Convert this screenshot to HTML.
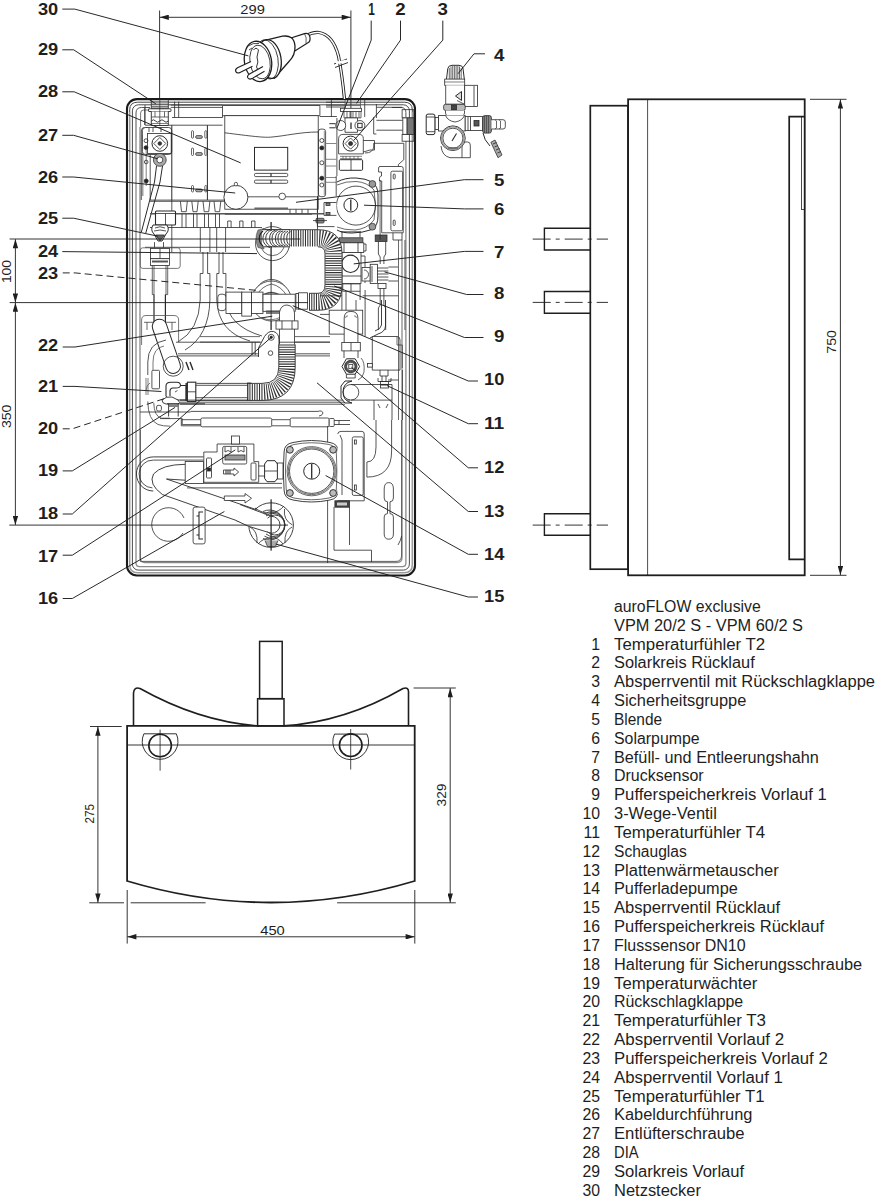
<!DOCTYPE html>
<html><head><meta charset="utf-8"><style>
html,body{margin:0;padding:0;background:#fff;}
svg{display:block;}
.lst text{font-family:"Liberation Sans",sans-serif;font-size:15.8px;fill:#1e1e1e;}
.lab text{font-family:"Liberation Sans",sans-serif;font-size:15.6px;font-weight:bold;fill:#1e1e1e;}
.dim text{font-family:"Liberation Sans",sans-serif;font-size:13.5px;fill:#1e1e1e;}
</style></head><body>
<svg width="876" height="1199" viewBox="0 0 876 1199">
<g class="lst">
<text x="614.0" y="611.9" textLength="146.8" lengthAdjust="spacingAndGlyphs">auroFLOW exclusive</text>
<text x="614.0" y="630.8" textLength="189.0" lengthAdjust="spacingAndGlyphs">VPM 20/2 S - VPM 60/2 S</text>
<text x="600" y="649.6" text-anchor="end">1</text>
<text x="614.0" y="649.6" textLength="151.2" lengthAdjust="spacingAndGlyphs">Temperaturfühler T2</text>
<text x="600" y="668.4" text-anchor="end">2</text>
<text x="614.0" y="668.4" textLength="140.7" lengthAdjust="spacingAndGlyphs">Solarkreis Rücklauf</text>
<text x="600" y="687.3" text-anchor="end">3</text>
<text x="614.0" y="687.3" textLength="261.0" lengthAdjust="spacingAndGlyphs">Absperrventil mit Rückschlagklappe</text>
<text x="600" y="706.1" text-anchor="end">4</text>
<text x="614.0" y="706.1" textLength="132.3" lengthAdjust="spacingAndGlyphs">Sicherheitsgruppe</text>
<text x="600" y="724.9" text-anchor="end">5</text>
<text x="614.0" y="724.9" textLength="48.1" lengthAdjust="spacingAndGlyphs">Blende</text>
<text x="600" y="743.8" text-anchor="end">6</text>
<text x="614.0" y="743.8" textLength="85.6" lengthAdjust="spacingAndGlyphs">Solarpumpe</text>
<text x="600" y="762.6" text-anchor="end">7</text>
<text x="614.0" y="762.6" textLength="204.9" lengthAdjust="spacingAndGlyphs">Befüll- und Entleerungshahn</text>
<text x="600" y="781.4" text-anchor="end">8</text>
<text x="614.0" y="781.4" textLength="89.7" lengthAdjust="spacingAndGlyphs">Drucksensor</text>
<text x="600" y="800.2" text-anchor="end">9</text>
<text x="614.0" y="800.2" textLength="212.7" lengthAdjust="spacingAndGlyphs">Pufferspeicherkreis Vorlauf 1</text>
<text x="600" y="819.1" text-anchor="end">10</text>
<text x="614.0" y="819.1" textLength="102.9" lengthAdjust="spacingAndGlyphs">3-Wege-Ventil</text>
<text x="600" y="837.9" text-anchor="end">11</text>
<text x="614.0" y="837.9" textLength="151.2" lengthAdjust="spacingAndGlyphs">Temperaturfühler T4</text>
<text x="600" y="856.7" text-anchor="end">12</text>
<text x="614.0" y="856.7" textLength="72.8" lengthAdjust="spacingAndGlyphs">Schauglas</text>
<text x="600" y="875.6" text-anchor="end">13</text>
<text x="614.0" y="875.6" textLength="164.7" lengthAdjust="spacingAndGlyphs">Plattenwärmetauscher</text>
<text x="600" y="894.4" text-anchor="end">14</text>
<text x="614.0" y="894.4" textLength="123.8" lengthAdjust="spacingAndGlyphs">Pufferladepumpe</text>
<text x="600" y="913.2" text-anchor="end">15</text>
<text x="614.0" y="913.2" textLength="166.0" lengthAdjust="spacingAndGlyphs">Absperrventil Rücklauf</text>
<text x="600" y="932.0" text-anchor="end">16</text>
<text x="614.0" y="932.0" textLength="210.0" lengthAdjust="spacingAndGlyphs">Pufferspeicherkreis Rücklauf</text>
<text x="600" y="950.9" text-anchor="end">17</text>
<text x="614.0" y="950.9" textLength="131.6" lengthAdjust="spacingAndGlyphs">Flusssensor DN10</text>
<text x="600" y="969.7" text-anchor="end">18</text>
<text x="614.0" y="969.7" textLength="248.2" lengthAdjust="spacingAndGlyphs">Halterung für Sicherungsschraube</text>
<text x="600" y="988.5" text-anchor="end">19</text>
<text x="614.0" y="988.5" textLength="143.4" lengthAdjust="spacingAndGlyphs">Temperaturwächter</text>
<text x="600" y="1007.4" text-anchor="end">20</text>
<text x="614.0" y="1007.4" textLength="129.2" lengthAdjust="spacingAndGlyphs">Rückschlagklappe</text>
<text x="600" y="1026.2" text-anchor="end">21</text>
<text x="614.0" y="1026.2" textLength="151.9" lengthAdjust="spacingAndGlyphs">Temperaturfühler T3</text>
<text x="600" y="1045.0" text-anchor="end">22</text>
<text x="614.0" y="1045.0" textLength="170.1" lengthAdjust="spacingAndGlyphs">Absperrventil Vorlauf 2</text>
<text x="600" y="1063.9" text-anchor="end">23</text>
<text x="614.0" y="1063.9" textLength="213.7" lengthAdjust="spacingAndGlyphs">Pufferspeicherkreis Vorlauf 2</text>
<text x="600" y="1082.7" text-anchor="end">24</text>
<text x="614.0" y="1082.7" textLength="168.8" lengthAdjust="spacingAndGlyphs">Absperrventil Vorlauf 1</text>
<text x="600" y="1101.5" text-anchor="end">25</text>
<text x="614.0" y="1101.5" textLength="150.5" lengthAdjust="spacingAndGlyphs">Temperaturfühler T1</text>
<text x="600" y="1120.3" text-anchor="end">26</text>
<text x="614.0" y="1120.3" textLength="138.4" lengthAdjust="spacingAndGlyphs">Kabeldurchführung</text>
<text x="600" y="1139.2" text-anchor="end">27</text>
<text x="614.0" y="1139.2" textLength="130.6" lengthAdjust="spacingAndGlyphs">Entlüfterschraube</text>
<text x="600" y="1158.0" text-anchor="end">28</text>
<text x="614.0" y="1158.0" textLength="24.6" lengthAdjust="spacingAndGlyphs">DIA</text>
<text x="600" y="1176.8" text-anchor="end">29</text>
<text x="614.0" y="1176.8" textLength="130.2" lengthAdjust="spacingAndGlyphs">Solarkreis Vorlauf</text>
<text x="600" y="1195.7" text-anchor="end">30</text>
<text x="614.0" y="1195.7" textLength="87.0" lengthAdjust="spacingAndGlyphs">Netzstecker</text>
</g>
<g class="lab">
<text x="58.2" y="15.2" text-anchor="end" textLength="20.3" lengthAdjust="spacingAndGlyphs">30</text>
<text x="58.2" y="55.0" text-anchor="end" textLength="20.3" lengthAdjust="spacingAndGlyphs">29</text>
<text x="58.2" y="96.7" text-anchor="end" textLength="20.3" lengthAdjust="spacingAndGlyphs">28</text>
<text x="58.2" y="141.4" text-anchor="end" textLength="20.3" lengthAdjust="spacingAndGlyphs">27</text>
<text x="58.2" y="182.8" text-anchor="end" textLength="20.3" lengthAdjust="spacingAndGlyphs">26</text>
<text x="58.2" y="223.8" text-anchor="end" textLength="20.3" lengthAdjust="spacingAndGlyphs">25</text>
<text x="58.2" y="257.3" text-anchor="end" textLength="20.3" lengthAdjust="spacingAndGlyphs">24</text>
<text x="58.2" y="278.6" text-anchor="end" textLength="20.3" lengthAdjust="spacingAndGlyphs">23</text>
<text x="58.2" y="350.7" text-anchor="end" textLength="20.3" lengthAdjust="spacingAndGlyphs">22</text>
<text x="58.2" y="392.0" text-anchor="end" textLength="20.3" lengthAdjust="spacingAndGlyphs">21</text>
<text x="58.2" y="433.6" text-anchor="end" textLength="20.3" lengthAdjust="spacingAndGlyphs">20</text>
<text x="58.2" y="476.1" text-anchor="end" textLength="20.3" lengthAdjust="spacingAndGlyphs">19</text>
<text x="58.2" y="518.8" text-anchor="end" textLength="20.3" lengthAdjust="spacingAndGlyphs">18</text>
<text x="58.2" y="562.1" text-anchor="end" textLength="20.3" lengthAdjust="spacingAndGlyphs">17</text>
<text x="58.2" y="604.2" text-anchor="end" textLength="20.3" lengthAdjust="spacingAndGlyphs">16</text>
<text x="504.3" y="60.5" text-anchor="end" textLength="10.4" lengthAdjust="spacingAndGlyphs">4</text>
<text x="504.3" y="185.5" text-anchor="end" textLength="10.4" lengthAdjust="spacingAndGlyphs">5</text>
<text x="504.3" y="214.5" text-anchor="end" textLength="10.4" lengthAdjust="spacingAndGlyphs">6</text>
<text x="504.3" y="257.6" text-anchor="end" textLength="10.4" lengthAdjust="spacingAndGlyphs">7</text>
<text x="504.3" y="299.3" text-anchor="end" textLength="10.4" lengthAdjust="spacingAndGlyphs">8</text>
<text x="504.3" y="342.3" text-anchor="end" textLength="10.4" lengthAdjust="spacingAndGlyphs">9</text>
<text x="504.3" y="385.4" text-anchor="end" textLength="20.3" lengthAdjust="spacingAndGlyphs">10</text>
<text x="504.3" y="429.0" text-anchor="end" textLength="20.3" lengthAdjust="spacingAndGlyphs">11</text>
<text x="504.3" y="473.1" text-anchor="end" textLength="20.3" lengthAdjust="spacingAndGlyphs">12</text>
<text x="504.3" y="516.8" text-anchor="end" textLength="20.3" lengthAdjust="spacingAndGlyphs">13</text>
<text x="504.3" y="560.2" text-anchor="end" textLength="20.3" lengthAdjust="spacingAndGlyphs">14</text>
<text x="504.3" y="602.3" text-anchor="end" textLength="20.3" lengthAdjust="spacingAndGlyphs">15</text>
<text x="371.5" y="14.7" text-anchor="middle" textLength="6.6" lengthAdjust="spacingAndGlyphs">1</text>
<text x="400.5" y="14.7" text-anchor="middle" textLength="10.4" lengthAdjust="spacingAndGlyphs">2</text>
<text x="442.8" y="14.7" text-anchor="middle" textLength="10.4" lengthAdjust="spacingAndGlyphs">3</text>
</g>
<defs>
<marker id="ar" viewBox="0 0 10 6" refX="10" refY="3" markerWidth="10.5" markerHeight="5.4" markerUnits="userSpaceOnUse" orient="auto-start-reverse"><path d="M0,0 L10,3 L0,6 z" fill="#1e1e1e"/></marker>
</defs>
<!-- ============ SIDE VIEW ============ -->
<g fill="none" stroke="#1e1e1e">
 <rect x="590.3" y="105.7" width="37.8" height="463.5" stroke-width="1.7"/>
 <rect x="628.1" y="99.3" width="176.6" height="476" stroke-width="1.8"/>
 <line x1="647.6" y1="99.3" x2="647.6" y2="575.3" stroke-width="0.8"/>
 <path d="M804.7,116.6 H789.2 V559.3 H804.7" stroke-width="1.7"/>
 <rect x="801.6" y="116.6" width="3.1" height="92.8" stroke-width="0.8"/>
 <path d="M590.3,228.3 H544.4 V250 H590.3 M590.3,291.5 H544.4 V313.2 H590.3 M590.3,513.7 H544.4 V535.3 H590.3" stroke-width="1.4"/>
 <g stroke-width="0.9" stroke-dasharray="18,5,4,5"><line x1="532.7" y1="239.1" x2="608" y2="239.1"/><line x1="532.7" y1="302.4" x2="608" y2="302.4"/><line x1="532.7" y1="525.1" x2="608" y2="525.1"/></g>
 <line x1="810" y1="99.3" x2="846.5" y2="99.3" stroke-width="0.9"/>
 <line x1="810" y1="575.3" x2="846.5" y2="575.3" stroke-width="0.9"/>
 <line x1="840.4" y1="99.5" x2="840.4" y2="575.1" stroke-width="0.9" marker-start="url(#ar)" marker-end="url(#ar)"/>
</g>
<!-- ============ BOTTOM VIEW ============ -->
<g fill="none" stroke="#1e1e1e">
 <path d="M127.1,725.9 H414.7 V881 Q271,924 127.1,881 Z" stroke-width="1.8"/>
 <line x1="127.1" y1="745" x2="414.7" y2="745" stroke-width="0.9"/>
 <path d="M133.5,725.9 V693 Q134,686.5 140,688.5 Q200,722 259,725.9 M283.5,725.9 Q345,722 403,688.5 Q409,686.5 408.5,693 V725.9" stroke-width="1.6"/>
 <rect x="259.6" y="641.4" width="22.6" height="57.3" stroke-width="1.5"/>
 <rect x="257.6" y="698.7" width="26.4" height="27.2" stroke-width="1.5"/>
 <circle cx="160.1" cy="745.5" r="11.3" stroke-width="1.6"/>
 <circle cx="350.7" cy="745.2" r="11.3" stroke-width="1.6"/>
 <path d="M143.9,733.8 A17.9,17.9 0 1 0 176.3,733.8 Z M334.5,734.1 A17.9,17.9 0 1 0 366.9,734.1 Z" stroke-width="0.9"/>
 <path d="M160.1,729.6 V770.7 M350.7,729 V769.5" stroke-width="0.8"/>
</g>

<!-- ============ DIMENSIONS ============ -->
<g fill="none" stroke="#1e1e1e" stroke-width="0.9">
 <!-- 299 -->
 <line x1="159.6" y1="10.5" x2="159.6" y2="99"/>
 <line x1="350.9" y1="10.5" x2="350.9" y2="118"/>
 <line x1="159.8" y1="17.3" x2="350.7" y2="17.3" marker-start="url(#ar)" marker-end="url(#ar)"/>
 <!-- left vertical dims -->
 <line x1="15.4" y1="239.2" x2="15.4" y2="302.4" marker-start="url(#ar)" marker-end="url(#ar)"/>
 <line x1="15.4" y1="302.8" x2="15.4" y2="524.9" marker-start="url(#ar)" marker-end="url(#ar)"/>
 <!-- bottom view dims -->
 <line x1="90" y1="726.5" x2="121.7" y2="726.5"/>
 <path d="M89.2,902.8 H124 M130.7,902.8 H205.6 M337.1,902.8 H455.8"/>
 <line x1="97.9" y1="726.7" x2="97.9" y2="902.6" marker-start="url(#ar)" marker-end="url(#ar)"/>
 <line x1="413.6" y1="688" x2="455.8" y2="688"/>
 <line x1="450.2" y1="688.2" x2="450.2" y2="902.6" marker-start="url(#ar)" marker-end="url(#ar)"/>
 <line x1="127.2" y1="890" x2="127.2" y2="943.6"/>
 <line x1="414.8" y1="890" x2="414.8" y2="943.6"/>
 <line x1="127.4" y1="936.8" x2="414.6" y2="936.8" marker-start="url(#ar)" marker-end="url(#ar)"/>
</g>
<g class="dim">
 <text x="252.6" y="13.9" text-anchor="middle" textLength="24.5" lengthAdjust="spacingAndGlyphs">299</text>
 <text x="272.5" y="934.5" text-anchor="middle" textLength="24.5" lengthAdjust="spacingAndGlyphs">450</text>
 <text transform="translate(11.4,271.6) rotate(-90)" text-anchor="middle" textLength="23" lengthAdjust="spacingAndGlyphs">100</text>
 <text transform="translate(11.3,416.3) rotate(-90)" text-anchor="middle" textLength="23.5" lengthAdjust="spacingAndGlyphs">350</text>
 <text transform="translate(94.2,813.8) rotate(-90)" text-anchor="middle" textLength="19.5" lengthAdjust="spacingAndGlyphs">275</text>
 <text transform="translate(446.2,795) rotate(-90)" text-anchor="middle" textLength="23" lengthAdjust="spacingAndGlyphs">329</text>
 <text transform="translate(835.7,341.9) rotate(-90)" text-anchor="middle" textLength="23.7" lengthAdjust="spacingAndGlyphs">750</text>
</g>

<!-- ============ FRONT CASING ============ -->
<g fill="none">
 <rect x="127" y="99.1" width="288" height="476.4" rx="10" stroke="#1a1a1a" stroke-width="2.1"/>
 <path d="M129.7,112 V564.8 Q129.7,572.8 137.7,572.8 H404.3 Q412.3,572.8 412.3,564.8 V112" stroke="#9a9a9a" stroke-width="1.5"/>
 <path d="M129.7,112 V109.8 Q129.7,102.2 137.7,102.2 H404.3 Q412.3,102.2 412.3,109.8 V112" stroke="#333" stroke-width="0.9"/>
 <rect x="132.4" y="104.8" width="277" height="465.3" rx="6" stroke="#2a2a2a" stroke-width="0.85"/>
 <path d="M136,140 V563 Q136,566.6 139.5,566.6 H402.4 Q405.9,566.6 405.9,563 V141" stroke="#8a8a8a" stroke-width="1.3"/>
 <path d="M136,140 V113 Q136,107.5 141.5,107.5 H150" stroke="#555" stroke-width="1"/>
 <path d="M140,127 V557.5 Q140,562.5 145,562.5 H397 Q402,562.5 402,557.5 V240" stroke="#8a8a8a" stroke-width="1.3"/>
 <path d="M140.6,127 V113 Q140.6,110 143.6,110 H150" stroke="#666" stroke-width="0.9"/>
 <path d="M144.7,108 V125" stroke="#555" stroke-width="0.9"/>
 <path d="M392,107.5 H401 Q405.9,107.5 405.9,112.5 V117" stroke="#555" stroke-width="1"/>
</g>

<!-- top-left internals -->
<g fill="none" stroke="#2a2a2a" stroke-width="0.8">
 <!-- top rails -->
 <path d="M170.7,105.1 H222.5 M170.7,107.4 H222.5 M172,117.5 H222.5 M145,125.2 H222.5" />
 <path d="M145,105 V125" />
 <path d="M174.6,101.5 V117.5 M178.7,101.5 V117.5" />
 <!-- fitting 29 -->
 <path d="M151.3,100.2 V108.8 H168.3 V100.2" fill="#fff" stroke-width="0.9"/>
 <path d="M151.3,101.2 H168.3 M151.3,102.9 H168.3 M151.3,104.6 H168.3 M151.3,106.3 H168.3 M151.3,108 H168.3" stroke="#444" stroke-width="0.9"/>
 <path d="M148.8,108.8 H170.7 Q171.5,110 170.7,111.5 H148.8 Q148,110 148.8,108.8 Z" fill="#fff" stroke-width="0.9"/>
 <path d="M151.3,111.5 V125.5 H168.3 V111.5" fill="#fff" stroke-width="0.9"/>
 <path d="M155,111.5 V117 M164.5,111.5 V117 M151.3,117 H168.3" stroke-width="0.7"/>
 <path d="M151.3,121 Q153.5,118.5 155.5,121 Q157.5,123.5 159.8,121 Q162,118.5 164,121 Q166,123.5 168.3,121" stroke-width="0.9"/>
 <path d="M151.3,123.5 H168.3" stroke-width="0.6"/>
 <line x1="159.8" y1="99" x2="159.8" y2="126" stroke-width="0.7"/>
 <!-- left strip -->
 <path d="M141.3,200 V131 Q141.3,127.5 144.5,127.5 H148 M150.2,131 V200" stroke-width="0.8"/>
 <path d="M142.8,135 V196" stroke="#888" stroke-width="1.2"/>
 <!-- valve block -->
 <rect x="142.4" y="127.5" width="29.3" height="27" rx="3" fill="#fff"/>
 <rect x="147.5" y="133.4" width="23.7" height="20.1"/>
 <circle cx="159.8" cy="143.5" r="7.8" stroke-width="1"/>
 <path d="M159.8,137.5 L165.8,143.5 L159.8,149.5 L153.8,143.5 Z"/>
 <circle cx="159.8" cy="143.5" r="1.8" fill="#333"/>
 <circle cx="146" cy="140.7" r="1.9"/>
 <circle cx="146" cy="147.6" r="1.9" fill="#222"/>
 <path d="M149,127.5 V132 M153,127.5 V132 M161,127.5 V132"/>
 <!-- 27 vent screw -->
 <circle cx="159.8" cy="159.9" r="6.4" fill="#a8a8a8" stroke="#333"/>
 <circle cx="159.8" cy="159.9" r="3" fill="#fff"/>
 <path d="M156.5,166 L154.5,182 L141.4,232 M162.5,166 L160,182 L145.8,233" stroke-width="1"/>
 <circle cx="146.2" cy="162" r="1.8"/>
 <circle cx="146.2" cy="181" r="2" fill="#222"/>
 <path d="M146.2,150 V186" stroke-width="0.6"/>
 <!-- slots panel -->
 <path d="M171.8,125.2 V200 M207.4,125.2 V200" stroke-width="1"/>
 <g fill="#fff" stroke-width="0.7">
  <rect x="191.5" y="130.7" width="2" height="7.5" rx="1"/><rect x="204.8" y="130.7" width="2" height="7.5" rx="1"/><rect x="195.6" y="135.6" width="6.8" height="2.8" rx="1.4" fill="#aaa"/>
  <rect x="191.5" y="148" width="2" height="7.5" rx="1"/><rect x="204.8" y="148" width="2" height="7.5" rx="1"/><rect x="195.6" y="152.6" width="6.8" height="2.8" rx="1.4" fill="#aaa"/>
  <rect x="191.5" y="185.5" width="2" height="6.5" rx="1"/><rect x="204.8" y="185.5" width="2" height="6.5" rx="1"/><rect x="195.6" y="189" width="6.8" height="2.8" rx="1.4" fill="#aaa"/>
 </g>
</g>

<!-- DIA & lower strip -->
<g fill="none" stroke="#2a2a2a" stroke-width="0.8">
 <!-- DIA box -->
 <path d="M222.5,117.5 V105.5 H319.9 V115.7" />
 <path d="M222.5,115.7 H319.9" />
 <rect x="224.8" y="115.7" width="93.4" height="93.5" fill="#fff"/>
 <path d="M224.8,132.8 C250,136 265,138 272,137 C285,136 300,132 318.2,132" />
 <rect x="254.5" y="147.4" width="33.2" height="22.7" stroke-width="1"/>
 <rect x="254.5" y="173.4" width="33.2" height="3.2" rx="1.2"/>
 <rect x="254.5" y="180.1" width="33.2" height="3.2" rx="1.2"/>
 <path d="M271,173.4 V176.6 M271,180.1 V183.3" stroke-width="1.2"/>
 <path d="M224.8,196.8 H316.7"/>
 <circle cx="282.2" cy="196.4" r="3.3" fill="#fff"/>
 <path d="M224.8,214.2 H312" stroke-width="1.3" stroke="#555"/>
 <path d="M254.4,208.4 H288" stroke-width="1.6" stroke="#666"/>
 <path d="M290,209.2 V213 M296,209.2 V213 M302,209.2 V213 M308,209.2 V213"/>
 <!-- right column w/ circles -->
 <rect x="318.4" y="129.1" width="7.2" height="67.6" rx="2.5"/>
 <path d="M324.3,131 V195" stroke="#888" stroke-width="0.9"/>
 <path d="M325.6,143.5 H336.2 M325.6,159.3 H336.2 M325.6,166 H336.2 M325.6,177.5 H336.2 M325.6,182.3 H336.2" stroke="#777" stroke-width="0.9"/>
 <path d="M336.2,176 V196" />
 <path d="M317.5,196 V235" />
 <rect x="316" y="218.3" width="8" height="4.7" rx="1" fill="#888" stroke="#333"/>
 <path d="M313,220.6 H327" stroke-width="0.8"/>
 <circle cx="321.8" cy="140.5" r="2"/>
 <circle cx="321.8" cy="147.9" r="2" fill="#222"/>
 <circle cx="321.8" cy="162.8" r="2"/>
 <circle cx="321.8" cy="178.2" r="2" fill="#222"/>
 <circle cx="321.8" cy="185" r="2"/>
 <path d="M317.4,196 V226.6 H334.5" />
 <!-- big circle 26 -->
 <circle cx="235.9" cy="197.3" r="12" fill="#fff" stroke-width="0.9"/>
 <rect x="234.3" y="182.4" width="3.2" height="3.5" rx="1.4" fill="#fff"/>
 <!-- band under -->
 <path d="M150,200.1 H224.8 M150,201.3 H224.8" />
 <path d="M180.4,201.3 L181.5,211.7 H186.2 L187.3,201.3 M191.8,201.3 L193,211.7 H197 L198.2,201.3 M203,201.3 L204.2,211.7 H208.7 L209.9,201.3 M214,201.3 L215.2,211.7 H219.6 L220.8,201.3"/>
 <path d="M150,213.8 H334" stroke-width="1.4" stroke="#555"/>
 <path d="M182,214 V227.5 M186,214 V227.5 M193.5,214 V227.5 M197,214 V227.5 M204.5,214 V227.5 M208.5,214 V227.5 M215.5,214 V227.5 M219.5,214 V227.5"/>
 <path d="M150,227.5 H262"/>
 <path d="M227.7,227.5 V221 H231.1 V227.5 M239.7,227.5 V221 H243 V227.5 M251.6,227.5 V221 H255 V227.5"/>
 <path d="M171.8,200 V252 M200.3,227.5 V252 M209.9,227.5 V252 M216.7,227.5 V252 M225.6,227.5 V252"/>
 <path d="M145,247.3 H250"/>
 <!-- nut above 25 -->
 <rect x="155.5" y="211" width="20" height="14" rx="1" fill="#fff" stroke-width="1.1"/>
 <path d="M156,213.5 H175 M165.5,213.5 V225" stroke-width="0.8"/>
</g>

<!-- top-right internals -->
<g fill="none" stroke="#2a2a2a" stroke-width="0.8">
 <path d="M326,102.2 H345 M326,105.2 H345 M326,107 H345 M319.9,116.5 H336.9" />
 <path d="M331.4,100 V117 M364.7,100 V117 M376.4,104 V118" />
 <!-- fitting 2 top -->
 <path d="M345.1,100 V108.3 M360.5,100 V108.3 M345.1,102.8 H360.5 M345.1,105.6 H360.5" stroke="#555"/>
 <rect x="340.5" y="108.3" width="21" height="3.1" fill="#fff"/>
 <path d="M344,111.4 V117.9 H361 V111.4 M347,111.4 V117.9 M350,111.4 V117.9 M353,111.4 V117.9 M356,111.4 V117.9 M359,111.4 V117.9" stroke-width="0.7"/>
 <!-- body -->
 <path d="M345,117.9 H357.5 V132.3 H345 Z" fill="#fff"/>
 <circle cx="340.7" cy="125.5" r="5" fill="#fff"/>
 <circle cx="359.9" cy="125.5" r="5" fill="#fff"/>
 <rect x="357.7" y="123.3" width="4.4" height="4.4" stroke-width="1"/>
 <path d="M329.4,123.7 H335.5 M329.4,127.8 H335.5" stroke-width="1"/>
 <path d="M351,122.5 V129" stroke-width="1.3"/>
 <!-- valve 3 -->
 <path d="M338.6,153.9 V138.5 Q339,134.4 343,134.4 H359 Q363.3,134.4 363.3,138.5 V153.9 Z" fill="#fff"/>
 <circle cx="350.6" cy="143.6" r="7.5" stroke-width="1"/>
 <path d="M350.6,138 L356.2,143.6 L350.6,149.2 L345,143.6 Z"/>
 <circle cx="350.6" cy="143.6" r="2" fill="#333"/>
 <path d="M340,156.3 H362 M340,158.7 H362 M343,156.3 V158.7 M346,156.3 V158.7 M350,156.3 V158.7 M354,156.3 V158.7 M358,156.3 V158.7" stroke-width="0.6"/>
 <rect x="339.3" y="159.7" width="23.3" height="10.6" rx="1" stroke-width="1"/>
 <path d="M351,159.7 V170.3"/>
 <path d="M336.9,118 V176"/>
 <path d="M363.3,140.5 H374.5 V150 L370,150 L363.3,152" />
 <!-- right upper -->
 <rect x="402.1" y="109.7" width="11.7" height="8.2"/>
 <rect x="402.1" y="134.4" width="11.7" height="6.8"/>
 <path d="M376.4,107.3 H402.1 M376.4,120.3 H402.8 M376.4,130.2 H402.8" />
 <path d="M373.7,117 V134 H376.4" />
 <rect x="406.9" y="117.9" width="6.5" height="16.5" fill="#777" stroke="#333"/>
 <path d="M402.8,117.9 H406.9 V134.4 H402.8 Z" fill="#fff"/>

 <path d="M373.7,143.3 H403.8 V159.7 L398.4,164.5 V230" />
 <path d="M365,153 Q373,153 373.7,147 V143.3" />
</g>

<!-- middle-right: pump 6, blende 5, hose 9, valve 7, sensor 8 -->
<g fill="none" stroke="#2a2a2a" stroke-width="0.8">
 <!-- pump 6 housing -->
 <path d="M337,182 Q345,177.5 356,178 Q366,178.5 372,182 Q378,186 378,195 V216 Q378,226 372,229.5 Q362,233 352,233 Q342,233 337,230" fill="#fff" stroke-width="1"/>
 <path d="M337,185 Q346,181 356,181.5 Q367,182 374,190 Q377,205 374,220 Q367,229 355,230 Q344,230 337,227" stroke-width="0.7"/>
 <circle cx="356" cy="205.6" r="19.5" stroke-width="0.8"/>
 <circle cx="350.8" cy="205.1" r="6.9" stroke-width="1"/>
 <path d="M350.8,199.5 V210.7" stroke-width="1.3"/>
 <circle cx="372.4" cy="184" r="3.4" fill="#999" stroke="#333"/>
 <circle cx="372.4" cy="226.7" r="3.4" fill="#999" stroke="#333"/>
 <path d="M336.4,202.5 H324 V215.4 H336.4" fill="#fff"/>
 <rect x="326" y="203" width="4" height="2.5" fill="#888"/><rect x="326" y="212.4" width="4" height="2.5" fill="#888"/>

 <!-- pump outlet / nut / valve 7 -->
 <path d="M340.6,231.8 H361.1 M342,231.8 V237.8 M360,231.8 V237.8"/>
 <rect x="339.1" y="237.8" width="23.8" height="4.6" fill="#777" stroke="#333"/>
 <rect x="338.7" y="242.8" width="25.1" height="9.6" fill="#fff"/>
 <path d="M344,242.8 V252.4 M358,242.8 V252.4 M363.8,244 H366 V251 H363.8"/>
 <rect x="341.9" y="252.4" width="19.1" height="31" fill="#fff"/>
 <circle cx="350.5" cy="263.8" r="8.7" fill="#fff" stroke-width="1.1"/>
 <path d="M341.9,276 H361 M361,256 H365 V283"/>
 <rect x="342.8" y="283.9" width="17.3" height="7.3" fill="#fff"/>
 <path d="M351,283.9 V291.2 M341.9,291.2 V330 M360.1,291.2 V300 M346,291.2 V330 M356,300 V330" />
 <!-- sensor 8 -->
 <rect x="362" y="267.5" width="8.2" height="13.5" fill="#fff"/>
 <path d="M364,270 A4,4 0 0 1 364,279" />
 <rect x="370.2" y="264.3" width="7.3" height="19.1" fill="#fff"/>
 <path d="M372,266 V282" />
 <path d="M377.5,268 H388.4 M377.5,271 H388.4 M377.5,274 H388.4 M377.5,277 H388.4 M377.5,280 H388.4" stroke-width="0.8"/>
 <path d="M388.4,267 H398 M388.4,281 H398" />
 <!-- thin sensor tube / connector -->
 <rect x="375.2" y="235" width="11.8" height="6.4" fill="#555"/>
 <path d="M378.4,241.4 V254 L380.2,257 V264 M385.7,241.4 V254 L383.9,257 V264" />
 <path d="M380.2,283.4 V305 L378.4,308 V330 M383.9,283.4 V305 L385.7,308 V330" />
 <rect x="378" y="283.4" width="8" height="5" fill="#fff"/>
 <!-- blende 5 -->
 <path d="M378.6,172 V168 Q378.6,166.5 380,166.5 H401.5 Q403.2,166.5 403.2,168.5 V232.8 H390.9 M378.6,172 H381.5 V176 Q379,176 379.5,181 H381.7 V232.8 H390.9" fill="#fff"/>
 <rect x="390.9" y="171.2" width="11.8" height="59.6" rx="1.5"/>
 <rect x="393.2" y="174" width="2" height="5" rx="1"/><rect x="393.2" y="220" width="2" height="5.5" rx="1"/>
 <path d="M393,232.8 V240 H402 V232.8" />
 <path d="M380.1,180 V240 M398.5,240 V330 M404.9,240 V330" stroke-width="0.7"/>
 <!-- fitting 24 circle & 23 circle -->
 <circle cx="272.5" cy="243.6" r="17" fill="#fff"/>
 <circle cx="272.5" cy="243.6" r="12" stroke-width="0.7"/>
 <path d="M271.1,222 V330" stroke-width="0.8"/>
 <circle cx="271.5" cy="296" r="16.5" fill="#fff"/>
 <!-- corrugated hose 9 -->
 <path id="hose" d="M265,238.3 H318 Q333.5,238.3 333.5,253.5 V285 Q333.5,301.8 318,301.8 H309" stroke="#fff" stroke-width="17"/>
 <path d="M265,238.3 H318 Q333.5,238.3 333.5,253.5 V285 Q333.5,301.8 318,301.8 H309" stroke="#333" stroke-width="16.5" stroke-dasharray="1.05,1.3"/>
 <path d="M265,229.7 H318 Q342,229.7 342,253.5 V285 Q342,310.3 318,310.3 H309 M318,246.8 Q325,246.8 325,253.5 V285 Q325,293.3 318,293.3 H309" stroke-width="0.9"/>
 <!-- spiral rings at fitting 24 -->
 <path d="M258,230 Q254,238.5 258,247.5 L264,249 Q261,238.5 264,228.5 Z" fill="#888" stroke="#444" stroke-width="0.6"/>
 <rect x="262" y="229.7" width="27" height="17.1" fill="#fff" stroke="none"/>
 <path d="M270,229.5 A9,9.2 0 0 0 270,247.5 M272,230 A8,8.7 0 0 0 272,247 M275.5,230.2 A7.5,8.5 0 0 0 275.5,246.8 M277.5,230.5 A7,8.2 0 0 0 277.5,246.5 M280.5,230.8 A6.5,7.9 0 0 0 280.5,246.2 M283,231 A6,7.6 0 0 0 283,246 M285.5,231.2 A5.5,7.4 0 0 0 285.5,245.8 M288,231.4 A5,7.2 0 0 0 288,245.6 M290.5,231.6 A4.5,7 0 0 0 290.5,245.4" stroke="#222" stroke-width="0.9"/>
 <path d="M263,231 A9.5,9.5 0 0 0 263,246" stroke="#222" stroke-width="1.2"/>
 <path d="M262,229.7 H290 M262,246.8 H290" stroke-width="0.9"/>
</g>

<!-- mid-left: pipe 25/24, sensor wells, valve 22/10, bracket 18 -->
<g fill="none" stroke="#2a2a2a" stroke-width="0.8">
 <!-- sensor 25 -->
 <path d="M153,225 Q150,230 154,234 L158,241 H162 L166,234 Q170,230 167,225 Z" fill="#fff" stroke-width="1"/>
 <path d="M155,228 Q160,225.5 165,228 M154,231 Q160,229 166,231" stroke-width="0.8"/>
 <path d="M155.5,235 L160,241 L164.5,235 Z" fill="#666"/>
 <path d="M154.5,242.1 V248.4 M163.5,242.1 V248.4"/>
 <rect x="140.3" y="247.8" width="39.9" height="20.6" rx="2.5" stroke="#555"/>
 <rect x="150.5" y="248.4" width="18.9" height="10.3" fill="#fff"/>
 <path d="M160,248.4 V258.7"/>
 <rect x="150.5" y="258.7" width="18.9" height="6.8" fill="#fff"/>
 <path d="M152,261.5 H168" stroke-width="2" stroke="#555"/>
 <path d="M152.3,265.5 V294.6 H154 M167.7,265.5 V294.6 H165.4 M154,265.5 V294.6 M166,265.5 V294.6" stroke-width="0.7"/>
 <path d="M154,294.6 V324.3 M165.4,294.6 V324.3" stroke-width="1.2"/>
 <!-- sensor wells -->
 <path d="M203,252 V273.5 H200.2 V300 M207.6,252 V273.5 H209.9 V300 M219,252 V273.5 H216.8 V300 M223,252 V273.5 H225.9 V300" />
 <path d="M200.2,300 Q199,330 178,342 M209.9,300 Q209,336 185,350" />
 <path d="M216.8,300 Q218,332 250,341 M225.9,300 Q228,326 262,336" />
 <!-- bracket 22 area -->
 <path d="M141.6,345 V320 Q141.6,315.5 146,315.5 H174 Q178.6,315.5 178.6,320 V342" stroke="#555"/>
 <path d="M144,322.3 H176 M147,322.3 V330 M172,322.3 V330" stroke-width="0.7"/>
 <!-- angled pipe -->
 <path d="M159.5,326.4 L173.2,366.2" stroke="#2a2a2a" stroke-width="15.5" stroke-linecap="round"/>
 <path d="M159.5,326.4 L173.2,366.2" stroke="#fff" stroke-width="13.5" stroke-linecap="round"/>
 <circle cx="173.2" cy="366.2" r="10" />
 <path d="M186,362 L189,370 M190,362 L193,370" stroke-width="1.4"/>
 <!-- U bend gray -->
 <path d="M147.8,375 V362 Q147.8,343 166,340" stroke="#555" stroke-width="1"/>
 <path d="M153,370 V362 Q153,348 164,346" stroke="#555" stroke-width="0.8"/>
 <rect x="151.9" y="370.3" width="7.6" height="18.5" rx="1"/>
 <path d="M146,378 V395 M148,378 V395" stroke-width="0.6"/>
 <!-- elbow 21 + pipe -->
 <path d="M166,396 V386 Q166,382.2 171,382.2 H177 Q180.5,382.2 180.5,385.5 Q180,388 176,388 H172.5 Q170,388.5 170,391 V396" fill="#fff" stroke-width="1.1"/>
 <path d="M180.5,385.5 H186.2 V400 H172 Q166,399 166,396" stroke-width="1"/>
 <path d="M175,392 L177.5,390.5" stroke-width="0.8"/>
 <rect x="187.4" y="382.2" width="8.4" height="19.2" fill="#fff" stroke-width="1.1"/>
 <path d="M187.4,391.8 H195.8" />
 <path d="M186.2,383 V401" stroke-width="1.4"/>
 <path d="M195.8,385.3 H247.8 M195.8,397.7 H247.8"/>
 <rect x="247.5" y="383" width="3.5" height="17" fill="#555"/>
 <!-- check valve 20 / sensor 19 -->
 <path d="M162,400 Q166,396 172,397 L178,400 Q181,403 178,404 H166 Q162,403.5 162,400 Z" fill="#fff" stroke-width="0.9"/>
 <path d="M167,403.8 H205 M168.6,403.8 V416.5 M178.2,403.8 V416.5" stroke-width="0.9"/>
 <path d="M168.6,406 H178.2" stroke="#666" stroke-width="1.6"/>
 <path d="M147.8,401.4 Q148,420 158,424.5 Q163,426.2 170.2,426.2 M153.8,403 Q154,416 161.4,418.2 H170" stroke="#666" stroke-width="1"/>
 <rect x="156.6" y="405.4" width="4.8" height="5.6" rx="1.5" stroke-width="0.8"/>
 <path d="M146,390 Q147,384 150,383" stroke="#666" stroke-width="0.9"/>
 <path d="M160,418.6 H182.2 V424.6 H201.3 V419.8" stroke-width="0.8"/>
 <!-- heat exchanger frame lines -->
 <path d="M176,342.2 H330 M178,353.8 H330 M178,355.9 H330" />
 <path d="M180,400.1 H350 M180,402.2 H350 M180,404.2 H345" />
 <path d="M190.5,411.4 H318 Q322,410 323,413 Q322,416 319,416" />
 <path d="M140,412 H190.5" stroke-width="0.8"/>
 <!-- 3-way valve (10/22) horizontal assembly -->
 <circle cx="271.5" cy="301" r="20" fill="#fff"/>
 <path d="M256,296 Q262,286 271.5,284 Q281,286 287,296" stroke-width="0.7"/>
 <path d="M262,296 Q271,289 281,296" stroke-width="1.6" stroke="#555"/>
 <rect x="217.8" y="294.2" width="8.2" height="16.4" rx="3" fill="#fff"/>
 <rect x="226" y="292.1" width="15.8" height="21.3" fill="#fff"/>
 <rect x="241.8" y="292.1" width="9.6" height="24" fill="#fff"/>
 <rect x="251.4" y="292.1" width="11.6" height="21.3" fill="#fff"/>
 <rect x="263" y="294.2" width="32.2" height="17.1" fill="#fff"/>
 <rect x="295.9" y="293.5" width="2.7" height="15.5" fill="#fff"/>
 <rect x="298.6" y="292.8" width="8.9" height="16.4" fill="#fff"/>
 <path d="M266,311.3 H282 M266,313 H282" stroke-width="1.4" stroke="#555"/>
 <path d="M262,318 Q271,322 281,317" stroke="#555" />
 <!-- elbow down -->
 <path d="M279.5,320.9 V312 Q281,305 287,305 Q294,306 294.5,313 V320.9" fill="#fff"/>
 <rect x="276" y="320.9" width="22" height="8.2" fill="#fff"/>
 <path d="M282,320.9 V329.1 M292,320.9 V329.1"/>
 <path d="M279.5,329.1 V345 M294.5,329.1 V345" />
 <!-- bracket 18 -->
 <path d="M258.5,357 V348 L264.5,336.5 Q268.5,330.5 273.5,331.5 Q279,333 279,340 V357" fill="#fff" stroke-width="0.9"/>
 <path d="M252.1,342.1 V355 M255.2,342.1 V355" stroke-width="0.8"/>
 <circle cx="271.2" cy="337.3" r="3" />
 <circle cx="271.2" cy="337.3" r="1.2" fill="#222"/>
 <circle cx="270.5" cy="353.1" r="2.3" />
 <path d="M295,336.6 H330 M295,342.1 H330 M200,336.6 H260 M200,342.1 H260" stroke-width="0.7"/>
</g>

<!-- mid-right lower: hose 2, valve-7 pipe, sight glass 12, pipe 11, box -->
<g fill="none" stroke="#2a2a2a" stroke-width="0.8">
 <!-- second corrugated hose -->
 <path d="M287,344.4 V367 Q287,391.9 262.1,391.9 H248.5" stroke="#fff" stroke-width="16.5"/>
 <path d="M287,344.4 V367 Q287,391.9 262.1,391.9 H248.5" stroke="#333" stroke-width="16" stroke-dasharray="1.05,1.35"/>
 <path d="M278.8,344.4 V367 Q278.8,383.4 262.1,383.4 H248.5 M295.2,344.4 V367 Q295.2,400.4 262.1,400.4 H248.5" stroke-width="0.9"/>
 <path d="M248.5,383.4 H196.4 M248.5,400.4 H196" />
 <!-- pipe below valve 7 -->
 <rect x="329.2" y="310.2" width="33.5" height="23.9" fill="#fff"/>
 <path d="M344.2,342.5 V318 Q344.2,311.4 351,311.4 Q357.9,311.4 357.9,318 V342.5" fill="#fff"/>
 <path d="M345.5,318 Q346,315 348,316 M356.5,318 Q356,315 354,316" stroke-width="0.6"/>
 <path d="M320,314.4 H329.2 M320,295.8 H341.9 M362.7,295.8 H398.5 M365.1,290 V336.5" />
 <path d="M385.5,300 V326 Q385,332 378,334 L370,338" stroke-width="0.9"/>
 <path d="M381.5,300 V325 Q381,329 375,331" stroke-width="0.9"/>
 <rect x="341.8" y="342.5" width="18.5" height="8.4" fill="#fff"/>
 <path d="M351,342.5 V350.9 M344,350.9 V358 M358,350.9 V358"/>
 <!-- sight glass 12 -->
 <path d="M342,366.5 L346.4,358.8 H355.2 L359.6,366.5 L355.2,374.2 H346.4 Z" fill="#fff" stroke-width="1"/>
 <circle cx="350.8" cy="366.5" r="6.2" fill="#555"/>
 <circle cx="350.8" cy="366.5" r="4.2" fill="#fff"/>
 <rect x="348.8" y="364.3" width="4" height="4.4" />
 <path d="M346.4,374.2 V378 H355.2 V374.2"/>
 <path d="M361,358 Q365,362 364,372 Q363,378 358,380" stroke-width="0.7"/>
 <!-- box -->
 <path d="M372.3,336.5 H397 Q400,336.5 400,340 V370.1 H372.3 Z" fill="#fff"/>
 <path d="M397,336.5 V345 H402.3 V368" stroke-width="0.7"/>
 <rect x="367.5" y="363.5" width="4.8" height="3.6" fill="#fff"/>
 <path d="M380,370.1 V376 H388 V370.1 M382,376 V382 M386,376 V382"/>
 <!-- pipe 11 -->
 <path d="M351,384.5 H392 V400.1 H351" fill="#fff"/>
 <path d="M341,386 L345,381 H352 Q343,383 343,392 Q343,401 352,403 H345 L341,398 Z" fill="#fff" stroke-width="1"/>
 <circle cx="351" cy="392.3" r="7.8" />
 <rect x="380.5" y="381.5" width="8" height="6.5" fill="#fff"/>
 <path d="M380.5,384.7 H388.5" stroke-width="1.5"/>
 <path d="M378,378 V381.5 H391 V378" />
 <path d="M374,400.1 V420 M392,400.1 V420 M378,404 L380,408 M388,404 L386,408" />
 <!-- right column lines -->
 <path d="M398.5,330 V420 M402.5,370 V420" stroke-width="0.7"/>
 <path d="M388,380 H398.5" />
</g>

<!-- bottom internals -->
<g fill="none" stroke="#2a2a2a" stroke-width="0.8">
 <!-- strip -->
 <path d="M181.3,419.7 H201 M181.3,425.8 H201 M181.3,419.7 V425.8 M271.7,419.7 H290.2 M271.7,425.8 H290.2" />
 <rect x="200.8" y="418" width="70.9" height="8.8" rx="1.5" fill="#fff"/>
 <rect x="290.2" y="418" width="39" height="8.8" rx="1.5" fill="#fff"/>
 <rect x="329.2" y="418.5" width="5" height="8" rx="1" fill="#fff"/>
 <path d="M334.2,420.5 H350 M334.2,424.5 H350 M339,420.5 V424.5" />
 <!-- inner panel -->
 <path d="M140.4,430 V561.4 H396 Q401.6,561.4 401.6,555 V420" stroke="#555" stroke-width="0.9"/>
 <path d="M327.6,426 V563" />
 <!-- loop of pipe 16 -->
 <path d="M203.5,456.9 H153.3 A16.8,17 0 0 0 153.3,491" stroke-width="0.9"/>
 <path d="M203.5,460.1 H153.3 A13.8,13.9 0 0 0 152.4,487.9" stroke-width="0.8"/>
 <rect x="185.2" y="461.4" width="18.3" height="22" fill="#fff" stroke-width="0.8"/>
 <path d="M185.2,464.3 Q162,464.5 153.5,474 Q148,484 162.4,494.5 L251.5,525.8 M185.2,480.2 Q174,479.5 166.5,479 L270,514.3" fill="none" stroke-width="0.9"/>
 <path d="M203.5,483.4 H282 M187,487.9 H282" stroke-width="0.8"/>
 <!-- diagonal pipe 16 end in valve -->
 <!-- flow sensor 17 -->
 <path d="M203.8,482.3 V452 H217.1 V444 H253.9 V461.6 H258.7 V482.3 Z" fill="#fff"/>
 <rect x="222.7" y="446.4" width="24" height="17.6" rx="1.5" />
 <path d="M225,447 V452 Q228,449 231,452 V447 M238,447 V452 Q241,449 244,452 V447" />
 <rect x="225" y="455" width="20" height="5" fill="#999"/>
 <rect x="231.5" y="436" width="8" height="8" fill="#fff"/>
 <rect x="206.5" y="458" width="5" height="20" rx="1"/>
 <rect x="251" y="463" width="5" height="17" rx="1"/>
 <rect x="207.5" y="468" width="3" height="3" fill="#222"/>
 <path d="M223.5,470 H234 V468 L238.7,472 L234,476 V474 H223.5 Z" fill="#fff"/>
 <path d="M225,471 H231 M225,473 H231" stroke-width="1.2"/>
 <!-- arrow below -->
 <path d="M224.3,496 H245 V493.5 L251.5,498.3 L245,503 V500.5 H224.3 Z" fill="#fff"/>
 <!-- circle -->
 <path d="M184,518 A16.8,16.8 0 1 0 183,533" />
 <!-- bracket clip -->
 <rect x="193.1" y="507.1" width="12" height="36.8" rx="2" fill="#fff"/>
 <path d="M203,512 H199 V539 H203 M199,516 H196.5 M199,535 H196.5" stroke-width="1.1"/>
 <!-- valve 15 -->
 <circle cx="271.1" cy="525.1" r="22.3" fill="#fff" stroke-width="0.9"/>
 <path d="M255,508 Q263,514 271,513 Q279,512 284,506 M284.5,509 Q283,520 292.5,525 M292,527 Q284,531 285,543 M283,544 Q278,537 271,538 Q263,538 258,544 M257,543 Q258,531 250,527 M250,523 Q257,519 256,508" stroke-width="0.8"/>
 <path d="M240,504.5 L271.4,516.3 A8.6,8.5 0 0 1 271.4,533.3 L248.8,526.4 L236,520.5" fill="#fff" stroke-width="0.9"/>
 <path d="M263,511.5 A15,15 0 1 1 263,538.5 M264.5,513.8 A13.3,13.3 0 1 1 264.5,536.2 M266,516 A11.6,11.6 0 1 1 266,534 M267.5,518.2 A10,10 0 1 1 267.5,531.8" stroke="#333" stroke-width="0.9"/>
 <path d="M265,540.5 L267.5,546.5 H275.5 L278,540.5" fill="#aaa" stroke="#333" stroke-width="0.8"/>
 <path d="M271.1,499.4 V550.6" stroke-width="0.7"/>
 <!-- pump 14 -->
 <path d="M293,442.5 Q311.5,438.5 330,442.5 Q338.4,444 338.4,452 Q340,471 338.4,490 Q338.4,498.5 330,500 Q311.5,504 293,500 Q284.1,498.5 284.1,490 Q282.5,471 284.1,452 Q284.1,444 293,442.5 Z" fill="#fff" stroke-width="0.9"/>
 <path d="M294,444.5 Q311.5,441 329,444.5 Q336.3,446 336.3,453 Q337.8,471 336.3,489 Q336.3,496.5 329,498 Q311.5,501.5 294,498 Q286.2,496.5 286.2,489 Q284.7,471 286.2,453 Q286.2,446 294,444.5 Z" stroke-width="0.7"/>
 <circle cx="311.7" cy="471.2" r="24.6" stroke-width="0.7"/>
 <circle cx="311.7" cy="471.2" r="23.4" stroke-width="0.7"/>
 <circle cx="311.7" cy="471.2" r="22.2" fill="#fff" stroke-width="0.8"/>
 <circle cx="311.7" cy="471.2" r="8" stroke-width="1"/>
 <path d="M311.7,463.7 V478.7" stroke-width="1.3"/>
 <circle cx="289.9" cy="449.8" r="3.4" fill="#bbb" stroke="#333" stroke-width="1"/>
 <circle cx="333.1" cy="449.8" r="3.4" fill="#bbb" stroke="#333" stroke-width="1"/>
 <circle cx="289.9" cy="493" r="3.4" fill="#bbb" stroke="#333" stroke-width="1"/>
 <circle cx="333.1" cy="493" r="3.4" fill="#bbb" stroke="#333" stroke-width="1"/>
 <!-- nut left of pump -->
 <path d="M264.6,464 L267,460.7 H275 L277.4,464 V478.4 L275,481.7 H267 L264.6,478.4 Z" fill="#fff" stroke-width="1"/>
 <path d="M264.6,471 H277.4"/>
 <rect x="277.4" y="463" width="5.6" height="16" fill="#fff"/>
 <path d="M258.7,466 H264.6 M258.7,476 H264.6"/>
 <!-- pump e-box -->
 <path d="M337.7,434 Q338,431.4 341,431.4 H362 Q364.2,431.4 364.2,434 V500.8 H337.7" fill="#fff"/>
 <path d="M340,435 L342,440 V495" />
 <rect x="352.3" y="436.9" width="10.9" height="58.5" rx="1.5"/>
 <rect x="354.5" y="440" width="1.8" height="4" /><rect x="354.5" y="485" width="1.8" height="5"/>
 <rect x="334.9" y="500.8" width="14.6" height="6.4" fill="#444"/>
 <rect x="337" y="502.5" width="10" height="3" fill="#ccc" stroke="none"/>
 <path d="M334,507 V550.2 H371.5 V562 M349.5,507 V545" />
 <!-- right U pipe & capsule -->
 <path d="M376,420 V447 Q376,462 366.9,462 M391.6,420 V451 Q391.6,477 366.9,477.1 M366.9,462 V477.1" />
 <path d="M384.2,489 Q384.2,482.6 388.8,482.6 Q393.4,482.6 393.4,489 V498 Q393.4,501.8 390,501.8 V513.6 Q393.4,513.6 393.4,517 V534 Q393.4,539.2 388.8,539.2 Q384.2,539.2 384.2,534 V517 Q384.2,513.6 387.5,513.6 V501.8 Q384.2,501.8 384.2,498 Z" />
 <path d="M398,545 Q401,540 401.6,536" />
</g>

<!-- external: plug 30 & safety group 4 -->
<g fill="none" stroke="#1e1e1e" stroke-width="1.1">
 <!-- cable -->
 <path d="M306,36 Q312,32 319,32.5 Q333,35 338.5,56 Q342,74 344.5,99" stroke-width="3.2"/>
 <path d="M306,36 Q312,32 319,32.5 Q333,35 338.5,56 Q342,74 344.5,99" stroke="#fff" stroke-width="1.4"/>
 <path d="M334,64 L347,59 M335,67.5 L348,62.5" stroke-width="0.9"/>
 <path d="M336,63 L346,61" stroke="#fff" stroke-width="2.6"/>
 <!-- neck -->
 <path d="M288.6,38.8 L304.5,33.6 Q309.5,32.5 310,37.5 Q310.5,42 307.5,43 L294.8,51.1" fill="#fff" stroke-width="1.2"/>
 <path d="M304.5,33.6 Q307,37 306,43.5" stroke-width="0.7"/>
 <!-- body -->
 <path d="M266,40.2 L282.5,36.2 Q294,34.5 295,46 Q295.5,55 289,61.5 L274,78.5" fill="#fff" stroke-width="1.3"/>
 <!-- collar -->
 <ellipse cx="269.5" cy="59" rx="11.5" ry="19.6" transform="rotate(-10 269.5 59)" fill="#fff" stroke-width="1.3"/>
 <ellipse cx="267" cy="59.5" rx="11" ry="19.8" transform="rotate(-10 267 59.5)" stroke-width="0.8"/>
 <!-- face -->
 <ellipse cx="258" cy="61.4" rx="13.5" ry="20.3" transform="rotate(-10 258 61.4)" fill="#fff" stroke-width="1.3"/>
 <ellipse cx="260" cy="62" rx="10" ry="17" transform="rotate(-10 260 62)" stroke-width="0.8"/>
 <path d="M253.5,50 Q256,46.5 258.5,50 L257,57 Q259,62 256.5,67 L258,70" stroke-width="0.9"/>
 <path d="M248,46 Q253,42.5 259,43.5 M249,50 L252,48" stroke-width="0.8"/>
 <!-- pins -->
 <path d="M251,61.5 L237.5,67.8 Q234.8,69.3 235.8,71.6 Q237.2,73.8 240,72.4 L252.5,66.3" fill="#fff" stroke-width="1.1"/>
 <path d="M263,66.5 L249.5,74 Q246.8,75.5 247.8,77.8 Q249.3,80 252,78.6 L264.5,71.2" fill="#fff" stroke-width="1.1"/>
</g>
<g fill="none" stroke="#2a2a2a" stroke-width="0.8">
 <!-- safety group 4 -->
 <path d="M446.5,79.1 L447.8,68.5 Q448.5,65.3 452,65.3 H459 Q462.5,65.3 463,68.5 L464.3,79.1" fill="#fff" stroke-width="1"/>
 <path d="M449.3,68 V79 M451,66.5 V79 M452.7,66 V79 M454.4,66 V79 M456.1,66 V79 M457.8,66 V79 M459.5,66.5 V79 M461.2,68 V79" stroke-width="0.8" stroke="#444"/>
 <rect x="444.7" y="79.1" width="20" height="6.2" fill="#fff"/>
 <path d="M444.7,82 H464.7" stroke-width="0.6"/>
 <path d="M445.7,85.3 V104.3 H464.7 V85.3" fill="#fff"/>
 <path d="M461.5,91.5 L455.5,96 L461.5,100.5 Z" stroke-width="1" fill="#ddd"/>
 <path d="M457,100.5 L464,104" />
 <rect x="464.7" y="85.3" width="12.8" height="21.1" fill="#fff"/>
 <path d="M474,86 V106" />
 <rect x="443.6" y="104.3" width="21.6" height="6.2" rx="2" fill="#bbb"/>
 <rect x="451.5" y="105" width="5" height="5" fill="#444"/>
 <path d="M445.5,110.5 V113 Q447,120 455,122 Q463,120 464.5,113 V110.5" fill="#fff"/>
 <rect x="438.5" y="115.6" width="26.7" height="15.4" fill="#fff"/>
 <path d="M445.5,115.6 Q448,121 455,122 Q462,121 464.5,115.6" fill="#fff"/>
 <rect x="434.9" y="117.5" width="3.6" height="12" fill="#fff"/>
 <path d="M428,114.1 H433 Q434.9,114.1 434.9,116 V132.7 Q434.9,134.6 433,134.6 H428 Q426.2,134.6 426.2,132.7 V116 Q426.2,114.1 428,114.1 Z" fill="#fff" stroke-width="1"/>
 <path d="M426.2,117 H434.9 M426.2,131.7 H434.9" />
 <path d="M441,146 Q442,156 450,157.7 H462 V142 M462,142 H467.5 Q470.3,142 470.3,145 V157.7 H462" fill="#fff"/>
 <circle cx="452.9" cy="138.2" r="12.3" fill="#fff" stroke-width="1"/>
 <circle cx="452.9" cy="138.2" r="11.3" stroke="#999" stroke-width="1.4"/>
 <circle cx="452.9" cy="138.2" r="10" stroke-width="0.8"/>
 <path d="M452,141 L456.5,133.5" stroke-width="1.1"/>
 <path d="M448,148 H458" stroke-width="1.5" stroke="#666"/>
 <rect x="465.2" y="116.6" width="17.5" height="13.9" fill="#fff"/>
 <path d="M468,116.6 V130.5 M470.5,116.6 V130.5" />
 <rect x="474" y="120.5" width="5" height="5.5" fill="#555"/>
 <rect x="482.7" y="115.6" width="8.7" height="17.5" rx="2" fill="#888"/>
 <path d="M484.5,116 V133 M486.5,116 V133 M488.5,116 V133" stroke="#333" stroke-width="0.6"/>
 <path d="M491.4,119.7 H503 Q505.3,119.7 505.3,122 V126.8 Q505.3,129 503,129 H491.4" fill="#fff"/>
 <path d="M495,119.7 L496.5,121 V128 L495,129 M499,119.7 L500.5,121 V128 L499,129" stroke-width="0.7"/>
 <path d="M483,133 Q484,140 490,146" stroke-width="1"/>
 <path d="M490.9,142.3 L495,140 L502,155 L498,157.7 Z" fill="#aaa" stroke="#333"/>
 <path d="M493,144 L496.5,142.5 M494.5,147 L498,145.5 M496,150 L499.5,148.5 M497.5,153 L501,151.5" stroke="#333" stroke-width="0.9"/>
</g>

<!-- center / dimension lines over internals -->
<g fill="none" stroke="#1e1e1e" stroke-width="0.9">
 <line x1="9.6" y1="239" x2="300" y2="239"/>
 <line x1="9.6" y1="302.6" x2="308" y2="302.6"/>
 <line x1="9.3" y1="525.1" x2="288" y2="525.1"/>
 <path d="M271.1,222 V229.5 M271.1,247 V330 M271.1,499.4 V550.6" stroke-width="0.8"/>
</g>

<!-- ============ LEADER LINES ============ -->
<g fill="none" stroke="#1e1e1e" stroke-width="0.95">
 <path d="M62.3,9.1 H74.8 L248.4,55.9"/>
 <path d="M62.3,49.8 H73.7 L155.9,103.9"/>
 <path d="M62.3,91.8 H74.2 L240.7,162.9"/>
 <path d="M62.3,135.3 H73.6 L157.8,158.8"/>
 <path d="M62.3,177 H73.6 L235.2,193"/>
 <path d="M62.3,218.2 H73.6 L157.8,236.2"/>
 <path d="M62.3,251.6 L257,253.6"/>
 <path d="M62.7,272.9 H75 L260,290.7" stroke-dasharray="7,4"/>
 <path d="M62.7,347 H75 L272.3,316.2"/>
 <path d="M62.7,386.4 H75 L161.4,391.5"/>
 <path d="M62.7,428.8 H72.3 L166.8,397.8" stroke-dasharray="7,4"/>
 <path d="M62.7,470.9 H72.3 L175.1,407.4"/>
 <path d="M62.7,514 H72.3 L271,337.5"/>
 <path d="M62.7,555.2 H72.3 L235.3,449.9"/>
 <path d="M62.7,598.5 H72.3 L224.4,511.5"/>
 <!-- top -->
 <path d="M371.2,20.6 V40.1 L337.1,127.9"/>
 <path d="M400.5,20.6 V40.1 L356.5,103.4"/>
 <path d="M442.8,20.6 V40.1 L353.7,140.5"/>
 <path d="M485,53.8 H474 L458,73.8"/>
 <!-- right -->
 <path d="M483.5,179.7 H464.4 L296,202.3"/>
 <path d="M483.5,208.9 H464.4 L364,205.2"/>
 <path d="M483.5,251.4 H464.4 L353.7,263.9"/>
 <path d="M483.5,294.5 H466.7 L384.5,271.9"/>
 <path d="M483.5,337.5 H464.4 L334.2,286"/>
 <path d="M478,381 H468.3 L292.8,305.7"/>
 <path d="M478,423.7 H468.3 L387,385.6"/>
 <path d="M478,467.8 H468.3 L351.3,367.1"/>
 <path d="M478,511.5 H468.3 L317,382.8"/>
 <path d="M478,554.3 H468.3 L325.6,475.5"/>
 <path d="M478,597 H468.3 L275.7,544"/>
</g>


</svg>
</body></html>
